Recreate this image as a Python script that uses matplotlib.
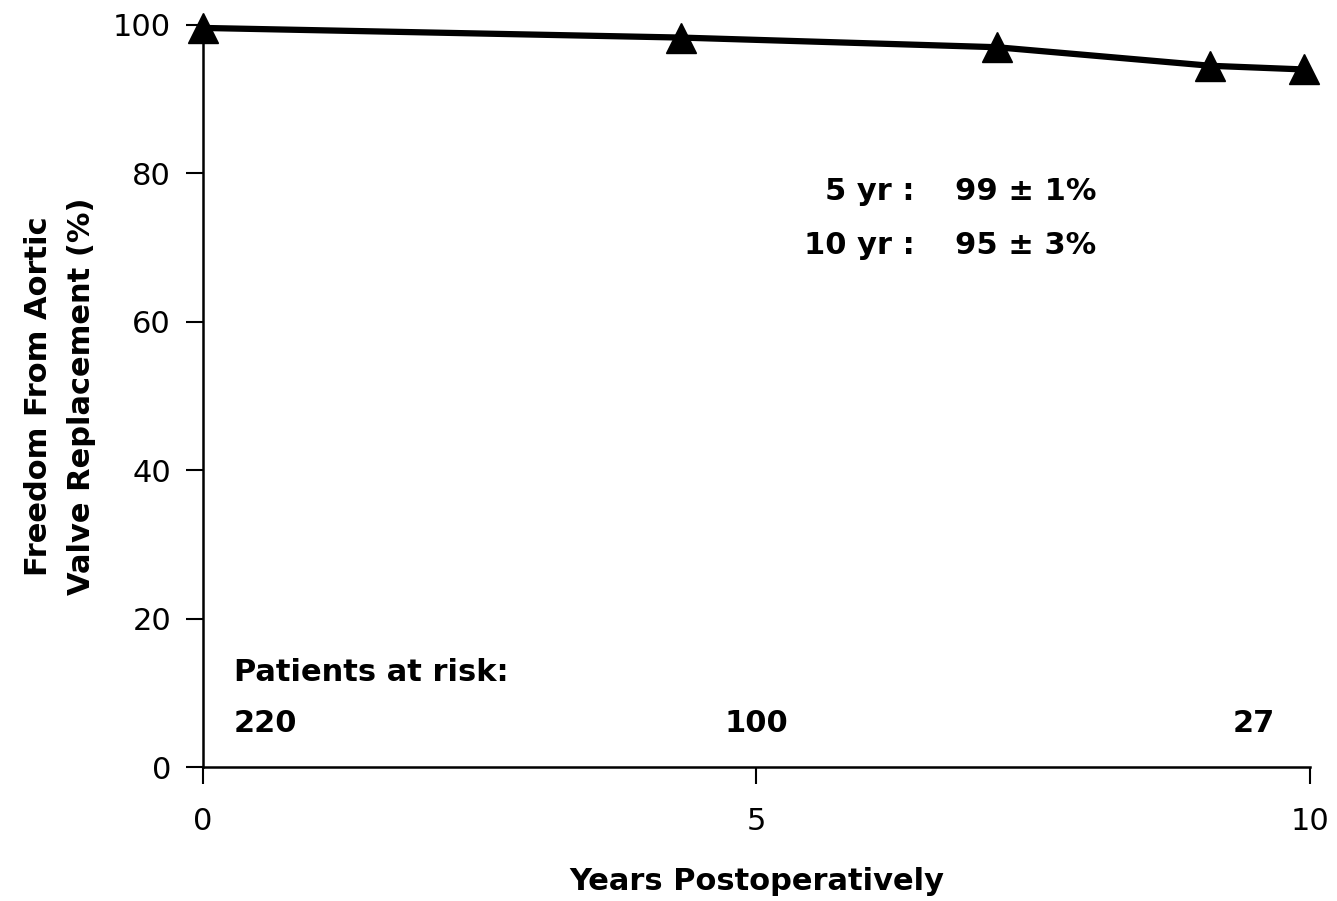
import matplotlib
matplotlib.use("Agg")
import matplotlib.pyplot as plt

years = [0.0, 4.32, 7.17, 9.1, 9.95]
freedom = [99.6, 98.3, 97.0, 94.5, 94.0]

xticks = [0, 5, 10]
yticks = [0, 20, 40, 60, 80, 100]

risk_years = [0.28, 5.0, 9.68]
risk_counts = ["220", "100", "27"]
risk_ha = ["left", "center", "right"]

est_labels = ["5 yr :", "10 yr :"]
est_values = ["99 \u00b1 1%", "95 \u00b1 3%"]
est_y = [77.5, 70.3]

plt.rcParams['font.family'] = ['DejaVu Sans']

fig = plt.figure(figsize=(13.37, 9.01), dpi=100)
ax = fig.add_axes([0.1518, 0.1487, 0.828, 0.8236])

ax.plot(years, freedom, color='black', lw=4.5, marker='^', markersize=21,
        clip_on=False, zorder=5, solid_joinstyle='round')

ax.set_xlim(0, 10)
ax.set_ylim(0, 100)
ax.set_xticks(xticks)
ax.set_yticks(yticks)
ax.tick_params(axis='both', direction='out', length=12, width=1.5,
               labelsize=22, colors='black')
ax.tick_params(axis='x', pad=17)
ax.tick_params(axis='y', pad=11)
for s in ['top', 'right']:
    ax.spines[s].set_visible(False)
for s in ['left', 'bottom']:
    ax.spines[s].set_linewidth(1.8)

ax.set_xlabel("Years Postoperatively", fontsize=22, fontweight='bold', labelpad=22)
ax.set_ylabel("Freedom From Aortic\nValve Replacement (%)", fontsize=22,
              fontweight='bold', labelpad=12, linespacing=1.6)

ax.text(0.28, 12.7, "Patients at risk:", fontsize=22, fontweight='bold',
        ha='left', va='center')
for x, c, h in zip(risk_years, risk_counts, risk_ha):
    ax.text(x, 5.9, c, fontsize=22, fontweight='bold', ha=h, va='center')

for lab, val, y in zip(est_labels, est_values, est_y):
    ax.text(6.43, y, lab, fontsize=22, fontweight='bold', ha='right', va='center')
    ax.text(6.79, y, val, fontsize=22, fontweight='bold', ha='left', va='center')

fig.savefig("out.png", dpi=100)
